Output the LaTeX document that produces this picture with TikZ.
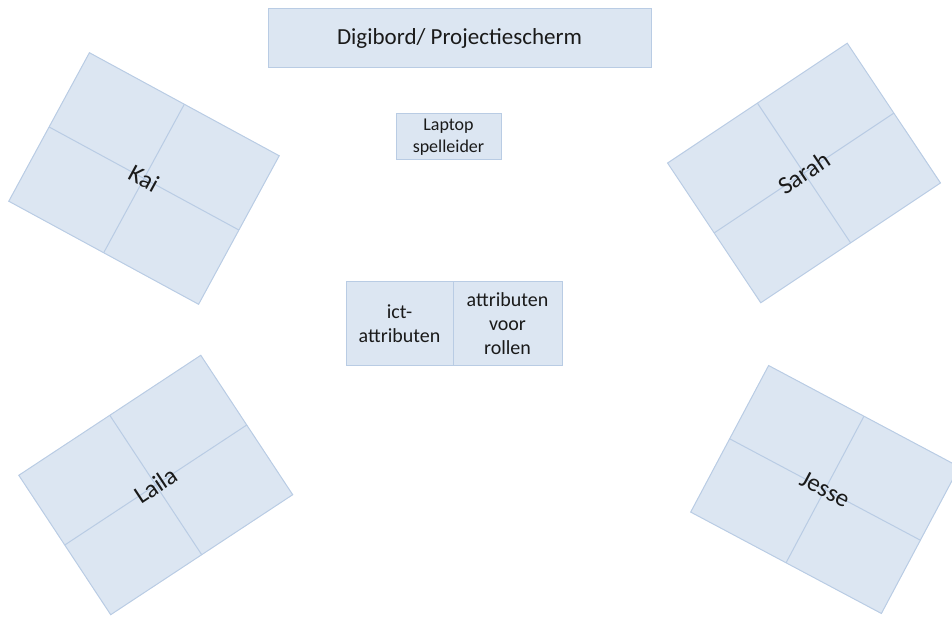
\documentclass[tikz,border=0pt]{standalone}
\usepackage{fontspec}
\setmainfont{Carlito}
\usetikzlibrary{positioning}
\definecolor{tablefill}{HTML}{DCE6F2}
\definecolor{tableline}{HTML}{B9CCE4}
\definecolor{textdark}{HTML}{1A1A1A}

\begin{document}
\begin{tikzpicture}[
      x=1pt, y=1pt,
      box/.style={
        rectangle, outer sep=0pt, inner sep=2pt,
        draw=tableline, line width=1pt, fill=tablefill,
        text=textdark, align=center
      },
      tablebox/.style={box, minimum width=216pt, minimum height=168pt},
      divider/.style={tableline, line width=1pt},
      pupil/.style={font=\fontsize{25}{30}\selectfont, text=textdark}
    ]
      \useasboundingbox (0,0) rectangle (952,616);

      \node[box, minimum width=383pt, minimum height=59pt,
        font=\fontsize{23}{28}\selectfont] (board) at (459.5,577.5) {Digibord/ Projectiescherm};
      \node[box, minimum width=105pt, minimum height=46pt,
        font=\fontsize{18}{21.6}\selectfont] (laptop) at (448.5,479) {Laptop\\spelleider};
      \node[box, minimum width=107pt, minimum height=84pt,
        font=\fontsize{20}{24}\selectfont] (ict) at (399.5,292) {ict-\\attributen};
      \node[box, minimum width=109pt, minimum height=84pt,
        font=\fontsize{20}{24}\selectfont, right=0pt of ict] (roles) {attributen\\voor\\rollen};

      % tafels
      \node[tablebox, rotate=-28.5, minimum height=169pt] (kai) at (144,437.5) {};
      \node[tablebox, rotate=33.7] (sarah) at (804,443) {};
      \node[tablebox, rotate=33.4, minimum width=218pt, minimum height=167pt] (laila) at (155.75,131) {};
      \node[tablebox, rotate=-28, minimum height=166pt] (jesse) at (825,126.5) {};

      \foreach \t in {kai,sarah,laila,jesse} {
        \draw[divider] (\t.north) -- (\t.south);
        \draw[divider] (\t.west) -- (\t.east);
      }

      \node[pupil, rotate=-28.5] (kainame) at (kai.center) {Kai};
      \node[pupil, rotate=33.7] (sarahname) at (sarah.center) {Sarah};
      \node[pupil, rotate=33.4] (lailaname) at (laila.center) {Laila};
      \node[pupil, rotate=-28] (jessename) at (jesse.center) {Jesse};
    \end{tikzpicture}
\end{document}
